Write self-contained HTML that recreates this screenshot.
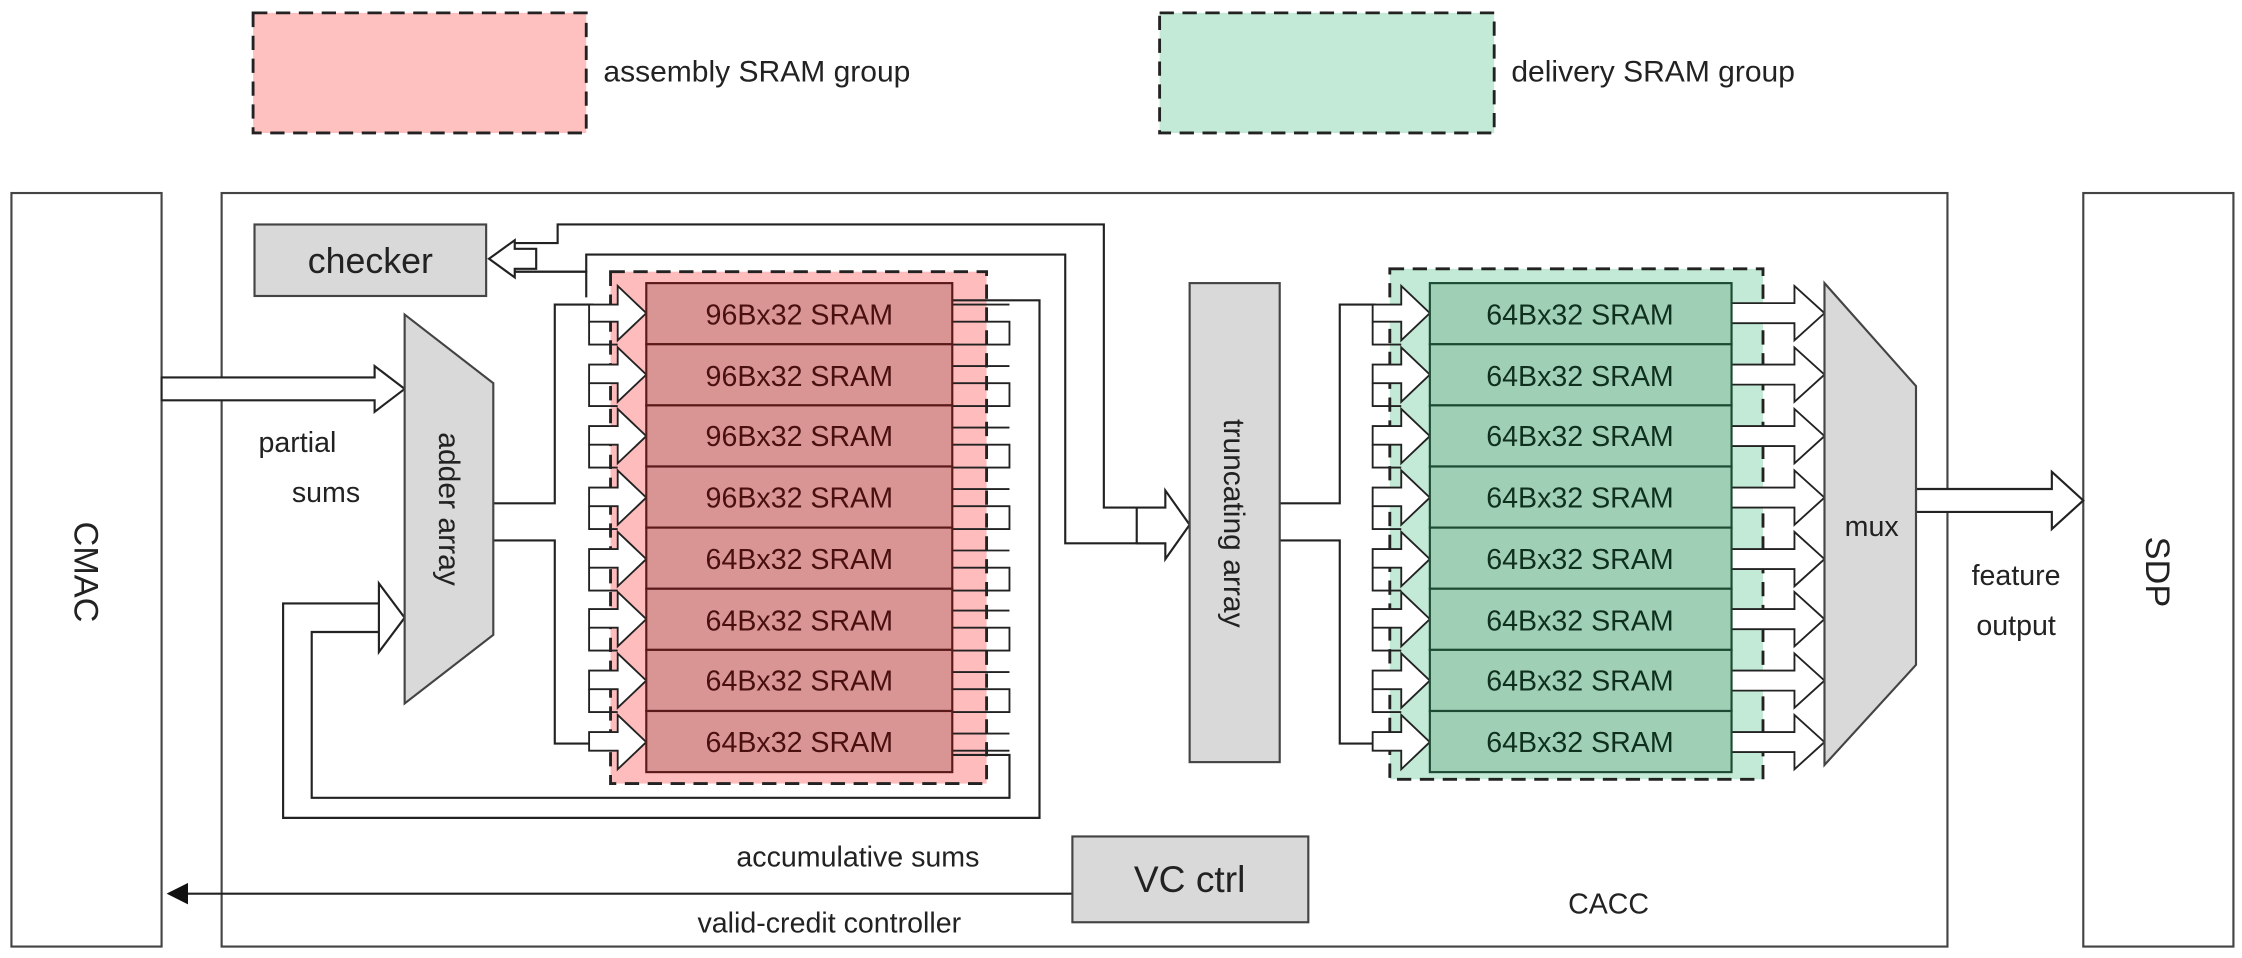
<!DOCTYPE html>
<html><head><meta charset="utf-8"><style>
html,body{margin:0;padding:0;background:#fff;}
svg{display:block;}
text{font-family:"Liberation Sans",sans-serif;fill:#222;}
</style></head><body>
<svg width="2242" height="958" viewBox="0 0 1568 670" preserveAspectRatio="none" xmlns="http://www.w3.org/2000/svg">
<defs>
<marker id="fa" markerWidth="10" markerHeight="10" refX="9" refY="5" orient="auto"><path d="M0,0 L10,5 L0,10 z" fill="#111"/></marker>
</defs>
<!-- legend -->
<rect x="177" y="9" width="233" height="84" fill="#ffc0c0" stroke="#222" stroke-width="2" stroke-dasharray="10,6"/>
<text x="422" y="57" font-size="21">assembly SRAM group</text>
<rect x="811" y="9" width="234" height="84" fill="#c2ead6" stroke="#222" stroke-width="2" stroke-dasharray="10,6"/>
<text x="1057" y="57" font-size="21">delivery SRAM group</text>
<!-- outer boxes -->
<rect x="8" y="135" width="105" height="527" fill="#fff" stroke="#444" stroke-width="1.5"/>
<text x="60" y="400" font-size="24" text-anchor="middle" transform="rotate(90 60 400)" dy="8">CMAC</text>
<rect x="155" y="135" width="1207" height="527" fill="#fff" stroke="#444" stroke-width="1.5"/>
<rect x="1457" y="135" width="105" height="527" fill="#fff" stroke="#444" stroke-width="1.5"/>
<text x="1509" y="400" font-size="24" text-anchor="middle" transform="rotate(90 1509 400)" dy="8">SDP</text>
<!-- checker -->
<rect x="178" y="157" width="162" height="50" fill="#d9d9d9" stroke="#444" stroke-width="1.5"/>
<text x="259" y="191" font-size="25" text-anchor="middle">checker</text>
<!-- groups -->
<rect x="427" y="190" width="263" height="358" fill="#ffbcbc" stroke="#222" stroke-width="2" stroke-dasharray="10,6"/>
<rect x="972" y="188" width="261" height="357" fill="#c2ead6" stroke="#222" stroke-width="2" stroke-dasharray="10,6"/>
<g id="lines" fill="none" stroke="#222" stroke-width="1.5">
<!-- checker and truncating feeds -->
<path d="M360,170 L390,170 L390,157 L772,157 L772,355 L815,355"/>
<path d="M360,190 L410,190 L410,178 L745,178 L745,380 L815,380"/>
<path d="M360,190 L410,190 L410,208"/>
<!-- adder outputs -->
<path d="M345,352 L388,352 L388,213 L415,213"/>
<path d="M345,378 L388,378 L388,520 L415,520"/>
<!-- feedback loops -->
<path d="M666,210 L727,210 L727,572 L198,572 L198,422 L265,422"/>
<path d="M666,528 L706,528 L706,558 L218,558 L218,442 L265,442"/>
<!-- truncating outputs -->
<path d="M895,352 L937,352 L937,213 L962,213"/>
<path d="M895,378 L937,378 L937,520 L962,520"/>
<!-- VC ctrl -->
<path d="M750,625 L118,625" marker-end="url(#fa)"/>
</g>
<g fill="#fff" stroke="#222" stroke-width="1.5">
<!-- hollow arrows -->
<polygon points="113,264 262,264 262,256 283,272 262,288 262,280 113,280"/>
<polygon points="265,422 265,408 283,432 265,456 265,442"/>
<polygon points="342,181 360,168 360,174 375,174 375,188 360,188 360,194"/>
<polygon points="795,355 815,355 815,343 832,367 815,391 815,380 795,380"/>
<polygon points="1340,342 1435,342 1435,330 1457,350 1435,370 1435,358 1340,358"/>
<!-- per-row arrows (assembly) -->
<g id="ra">
</g>
</g>
<g fill="#fff" stroke="#222" stroke-width="1.3">
<polygon points="412,213 432,213 432,200 452,219 432,238 432,225 412,225"/><path d="M412,225 L412,241 L432,241" fill="none"/><path d="M666,213 L706,213 M666,225 L706,225 L706,241 L666,241" fill="none"/>
<polygon points="412,255 432,255 432,243 452,262 432,281 432,268 412,268"/><path d="M412,268 L412,284 L432,284" fill="none"/><path d="M666,256 L706,256 M666,268 L706,268 L706,284 L666,284" fill="none"/>
<polygon points="412,298 432,298 432,286 452,305 432,324 432,311 412,311"/><path d="M412,311 L412,327 L432,327" fill="none"/><path d="M666,299 L706,299 M666,311 L706,311 L706,327 L666,327" fill="none"/>
<polygon points="412,341 432,341 432,329 452,348 432,367 432,354 412,354"/><path d="M412,354 L412,370 L432,370" fill="none"/><path d="M666,342 L706,342 M666,354 L706,354 L706,370 L666,370" fill="none"/>
<polygon points="412,384 432,384 432,372 452,391 432,410 432,397 412,397"/><path d="M412,397 L412,413 L432,413" fill="none"/><path d="M666,385 L706,385 M666,397 L706,397 L706,413 L666,413" fill="none"/>
<polygon points="412,426 432,426 432,414 452,433 432,452 432,439 412,439"/><path d="M412,439 L412,455 L432,455" fill="none"/><path d="M666,427 L706,427 M666,439 L706,439 L706,455 L666,455" fill="none"/>
<polygon points="412,469 432,469 432,457 452,476 432,495 432,482 412,482"/><path d="M412,482 L412,498 L432,498" fill="none"/><path d="M666,470 L706,470 M666,482 L706,482 L706,498 L666,498" fill="none"/>
<polygon points="412,512 432,512 432,500 452,519 432,538 432,525 412,525"/><path d="M666,513 L706,513 M666,525 L706,525" fill="none"/>
<!-- delivery per-row -->
<polygon points="960,213 980,213 980,200 1000,219 980,238 980,225 960,225"/><path d="M960,225 L960,241 L980,241" fill="none"/><polygon points="1211,212 1255,212 1255,200 1276,219 1255,238 1255,226 1211,226"/>
<polygon points="960,255 980,255 980,243 1000,262 980,281 980,268 960,268"/><path d="M960,268 L960,284 L980,284" fill="none"/><polygon points="1211,255 1255,255 1255,243 1276,262 1255,281 1255,269 1211,269"/>
<polygon points="960,298 980,298 980,286 1000,305 980,324 980,311 960,311"/><path d="M960,311 L960,327 L980,327" fill="none"/><polygon points="1211,298 1255,298 1255,286 1276,305 1255,324 1255,312 1211,312"/>
<polygon points="960,341 980,341 980,329 1000,348 980,367 980,354 960,354"/><path d="M960,354 L960,370 L980,370" fill="none"/><polygon points="1211,341 1255,341 1255,329 1276,348 1255,367 1255,355 1211,355"/>
<polygon points="960,384 980,384 980,372 1000,391 980,410 980,397 960,397"/><path d="M960,397 L960,413 L980,413" fill="none"/><polygon points="1211,384 1255,384 1255,372 1276,391 1255,410 1255,398 1211,398"/>
<polygon points="960,426 980,426 980,414 1000,433 980,452 980,439 960,439"/><path d="M960,439 L960,455 L980,455" fill="none"/><polygon points="1211,426 1255,426 1255,414 1276,433 1255,452 1255,440 1211,440"/>
<polygon points="960,469 980,469 980,457 1000,476 980,495 980,482 960,482"/><path d="M960,482 L960,498 L980,498" fill="none"/><polygon points="1211,469 1255,469 1255,457 1276,476 1255,495 1255,483 1211,483"/>
<polygon points="960,512 980,512 980,500 1000,519 980,538 980,525 960,525"/><polygon points="1211,512 1255,512 1255,500 1276,519 1255,538 1255,526 1211,526"/>
</g>
<!-- SRAM blocks assembly -->
<g stroke="#5a1a1a" stroke-width="1.5" fill="#d99594">
<rect x="452" y="198" width="214" height="42.75"/><rect x="452" y="240.75" width="214" height="42.75"/><rect x="452" y="283.5" width="214" height="42.75"/><rect x="452" y="326.25" width="214" height="42.75"/><rect x="452" y="369" width="214" height="42.75"/><rect x="452" y="411.75" width="214" height="42.75"/><rect x="452" y="454.5" width="214" height="42.75"/><rect x="452" y="497.25" width="214" height="42.75"/>
</g>
<g font-size="20" text-anchor="middle">
<text x="559" y="227" style="fill:#4a1010">96Bx32 SRAM</text><text x="559" y="270" style="fill:#4a1010">96Bx32 SRAM</text><text x="559" y="312" style="fill:#4a1010">96Bx32 SRAM</text><text x="559" y="355" style="fill:#4a1010">96Bx32 SRAM</text><text x="559" y="398" style="fill:#4a1010">64Bx32 SRAM</text><text x="559" y="441" style="fill:#4a1010">64Bx32 SRAM</text><text x="559" y="483" style="fill:#4a1010">64Bx32 SRAM</text><text x="559" y="526" style="fill:#4a1010">64Bx32 SRAM</text>
</g>
<g stroke="#1d4a33" stroke-width="1.5" fill="#9fd0b5">
<rect x="1000" y="198" width="211" height="42.75"/><rect x="1000" y="240.75" width="211" height="42.75"/><rect x="1000" y="283.5" width="211" height="42.75"/><rect x="1000" y="326.25" width="211" height="42.75"/><rect x="1000" y="369" width="211" height="42.75"/><rect x="1000" y="411.75" width="211" height="42.75"/><rect x="1000" y="454.5" width="211" height="42.75"/><rect x="1000" y="497.25" width="211" height="42.75"/>
</g>
<g font-size="20" text-anchor="middle">
<text x="1105" y="227" style="fill:#10301f">64Bx32 SRAM</text><text x="1105" y="270" style="fill:#10301f">64Bx32 SRAM</text><text x="1105" y="312" style="fill:#10301f">64Bx32 SRAM</text><text x="1105" y="355" style="fill:#10301f">64Bx32 SRAM</text><text x="1105" y="398" style="fill:#10301f">64Bx32 SRAM</text><text x="1105" y="441" style="fill:#10301f">64Bx32 SRAM</text><text x="1105" y="483" style="fill:#10301f">64Bx32 SRAM</text><text x="1105" y="526" style="fill:#10301f">64Bx32 SRAM</text>
</g>
<!-- adder array -->
<polygon points="283,220 345,268 345,444 283,492" fill="#d9d9d9" stroke="#444" stroke-width="1.5"/>
<text x="314" y="356" font-size="21" text-anchor="middle" transform="rotate(90 314 356)" dy="7">adder array</text>
<!-- truncating -->
<rect x="832" y="198" width="63" height="335" fill="#d9d9d9" stroke="#444" stroke-width="1.5"/>
<text x="863" y="366" font-size="21" text-anchor="middle" transform="rotate(90 863 366)" dy="7">truncating array</text>
<!-- mux -->
<polygon points="1276,198 1340,270 1340,465 1276,535" fill="#d9d9d9" stroke="#444" stroke-width="1.5"/>
<text x="1309" y="375" font-size="20" text-anchor="middle">mux</text>
<!-- VC ctrl -->
<rect x="750" y="585" width="165" height="60" fill="#d9d9d9" stroke="#444" stroke-width="1.5"/>
<text x="832" y="624" font-size="26" text-anchor="middle">VC ctrl</text>
<!-- labels -->
<text x="208" y="316" font-size="20" text-anchor="middle">partial</text>
<text x="228" y="351" font-size="20" text-anchor="middle">sums</text>
<text x="1410" y="409" font-size="20" text-anchor="middle">feature</text>
<text x="1410" y="444" font-size="20" text-anchor="middle">output</text>
<text x="600" y="606" font-size="20" text-anchor="middle">accumulative sums</text>
<text x="580" y="652" font-size="20" text-anchor="middle">valid-credit controller</text>
<text x="1125" y="639" font-size="20" text-anchor="middle">CACC</text>
</svg>
</body></html>
